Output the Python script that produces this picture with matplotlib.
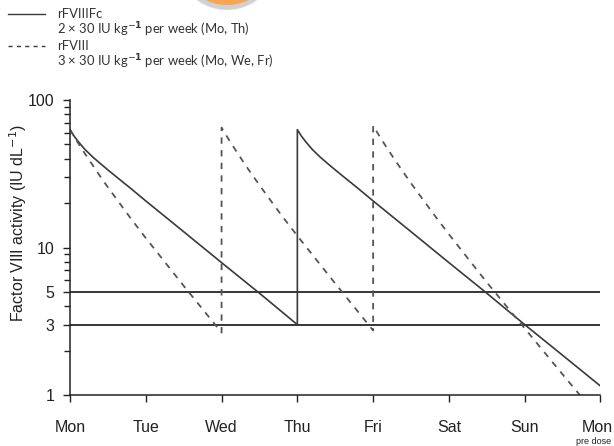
import matplotlib
matplotlib.use("Agg")
import matplotlib.pyplot as plt
import matplotlib.transforms as mtransforms
from matplotlib.patches import Circle
from matplotlib.lines import Line2D

# rFVIIIFc, 2 x 30 IU/kg (Mo, Th): day of week (0 = Mon) and activity
fc_days = [0, 0.05, 0.1, 0.15, 0.2, 0.3, 0.4, 0.5, 0.6, 0.8, 1.0, 1.5, 2.0, 2.5, 3.0,
           3.0, 3.05, 3.1, 3.15, 3.2, 3.3, 3.4, 3.5, 3.6, 3.8, 4.0, 4.5, 5.0, 5.5,
           6.0, 6.5, 7.0]
fc_level = [63, 57.3, 53.0, 49.3, 46.1, 41.1, 37.1, 33.6, 30.5, 25.2, 20.7, 12.8,
            7.9, 4.9, 3.0,
            63, 57.3, 53.0, 49.3, 46.1, 41.1, 37.1, 33.6, 30.5, 25.2, 20.7, 12.8,
            7.9, 4.9, 3.0, 1.86, 1.15]

# rFVIII, 3 x 30 IU/kg (Mo, We, Fr)
f8_days = [0, 0.1, 0.2, 0.3, 0.4, 0.5, 0.6, 0.8, 1.0, 1.5, 2.0,
           2.0, 2.1, 2.2, 2.3, 2.4, 2.5, 2.6, 2.8, 3.0, 3.5, 4.0,
           4.0, 4.1, 4.2, 4.3, 4.4, 4.5, 4.6, 4.8, 5.0, 5.5, 6.0, 6.5, 7.0]
f8_level = [63, 51.8, 43.1, 36.1, 30.3, 25.6, 21.8, 15.8, 11.6, 5.5, 2.65,
            65, 53.5, 44.5, 37.2, 31.3, 26.5, 22.5, 16.3, 12.0, 5.7, 2.74,
            67, 55.1, 45.8, 38.4, 32.3, 27.3, 23.2, 16.8, 12.3, 5.8, 2.83,
            1.38, 0.68]

thresholds = [3, 5]
day_names = ["Mon", "Tue", "Wed", "Thu", "Fri", "Sat", "Sun", "Mon"]
y_major = [1, 3, 5, 10, 100]
y_minor = [2, 4, 6, 7, 8, 9, 20, 30, 40, 50, 60, 70, 80, 90]

plt.rcParams["font.family"] = ["Liberation Sans", "DejaVu Sans"]

fig = plt.figure(figsize=(6.14, 4.46), dpi=100)
ax = fig.add_axes([0.114, 0.1143, 0.864, 0.6614])

for t in thresholds:
    ax.plot([0, 7], [t, t], color="black", lw=1.1, solid_capstyle="butt")

ax.plot(fc_days, fc_level, color="#3a3a3a", lw=1.2)
ax.plot(f8_days, f8_level, color="#555555", lw=1.3, dashes=(3.5, 3.5))

ax.set_yscale("log")
ax.set_ylim(1, 100)
ax.set_xlim(0, 7)
ax.set_yticks(y_major)
ax.set_yticklabels([str(v) for v in y_major])
ax.set_yticks(y_minor, minor=True)
ax.set_xticks(range(len(day_names)))
ax.set_xticklabels(day_names)

for s in ["top", "right"]:
    ax.spines[s].set_visible(False)
for s in ["left", "bottom"]:
    ax.spines[s].set_linewidth(1.1)
    ax.spines[s].set_color("#222222")

ax.tick_params(axis="y", which="major", length=5, width=1, pad=6,
               labelsize=11.5, colors="#222222")
ax.tick_params(axis="y", which="minor", length=4, width=1, colors="#222222")
ax.tick_params(axis="x", which="major", length=5, width=1, pad=13,
               labelsize=11.5, colors="#222222")

# last Mon label nudged left so it stays on the canvas
last = ax.get_xticklabels()[-1]
last.set_transform(last.get_transform() +
                   mtransforms.ScaledTranslation(-3 / 100, 0, fig.dpi_scale_trans))

fig.text(18 / 614, 1 - 223 / 446, "Factor VIII activity (IU dL$^{-1}$)",
         fontsize=11.5, color="#222222", rotation=90, ha="center", va="center")

fig.text(594 / 614, 1 - 441 / 446, "pre dose", fontsize=6.5, ha="center",
         va="center", color="#222222")

# legend block at top-left
leg_font = ["Lato", "DejaVu Sans"]
fig.add_artist(Line2D([8 / 614, 45 / 614], [1 - 14 / 446] * 2,
                      color="#3a3a3a", lw=1.0))
fig.add_artist(Line2D([8 / 614, 45 / 614], [1 - 46 / 446] * 2,
                      color="#3a3a3a", lw=1.0, dashes=(3, 3)))
legend_rows = ["rFVIIIFc",
               "2 \u00d7 30 IU kg$^{\u2212\\mathbf{1}}$ per week (Mo, Th)",
               "rFVIII",
               "3 \u00d7 30 IU kg$^{\u2212\\mathbf{1}}$ per week (Mo, We, Fr)"]
for i, row in enumerate(legend_rows):
    fig.text(57 / 614, 1 - (14 + 16 * i) / 446, row, fontsize=9.4,
             family=leg_font, color="#333333", va="center", ha="left")

# orange badge cut off at the top edge, with a soft shadow
for dr, dy, a in [(0.03, 0.025, 0.10), (0.02, 0.03, 0.15), (0.01, 0.035, 0.2)]:
    fig.add_artist(Circle((2.27, 4.46 + 0.435 - dy), 0.485 + dr,
                          transform=fig.dpi_scale_trans, color="#888888",
                          alpha=a, lw=0))
badge = Circle((2.27, 4.46 + 0.435), 0.485,
               transform=fig.dpi_scale_trans, color="#f7a552", lw=0)
fig.add_artist(badge)

fig.savefig("out.png", dpi=100)
